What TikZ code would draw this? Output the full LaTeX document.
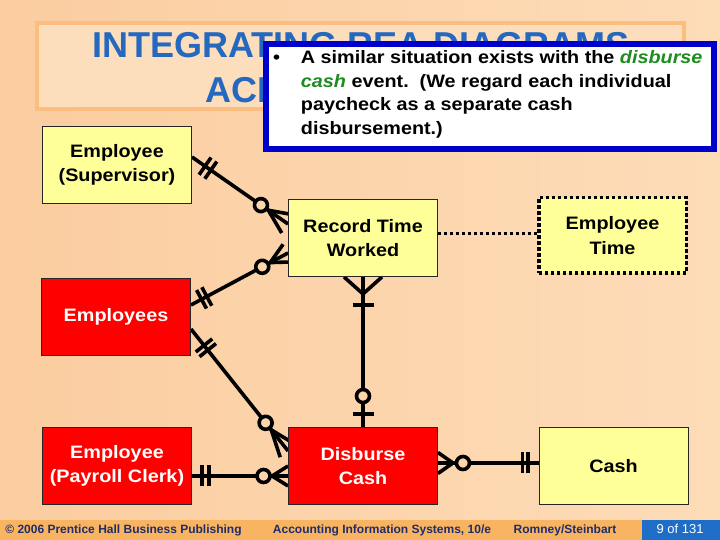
\documentclass[tikz,border=0pt]{standalone}
\usepackage{fontspec}
\setmainfont{Liberation Sans}
\newfontfamily\widefont[FakeStretch=1.1]{Liberation Sans}
\usetikzlibrary{decorations.markings}

\definecolor{bgleft}{RGB}{251,205,160}
\definecolor{bgright}{RGB}{253,220,184}
\definecolor{bgpeach}{RGB}{252,213,172}
\definecolor{titlefill}{RGB}{253,222,188}
\definecolor{titleedge}{RGB}{251,190,128}
\definecolor{titleblue}{RGB}{36,104,192}
\definecolor{noteblue}{RGB}{0,0,204}
\definecolor{notegreen}{RGB}{30,140,30}
\definecolor{boxyellow}{RGB}{255,255,153}
\definecolor{boxred}{RGB}{255,0,0}
\definecolor{footorange}{RGB}{249,180,98}
\definecolor{footblue}{RGB}{30,110,200}
\definecolor{footnavy}{RGB}{30,45,110}

\pgfdeclarelayer{background}
\pgfsetlayers{background,main}

\begin{document}
\begin{tikzpicture}[x=1pt,y=1pt]

    \tikzset{
      rel/.style={line width=3.6pt, line join=round},
      onebar/.style={postaction={decorate,decoration={markings,
        mark=at position #1 with {\draw[rel] (0,-10.5pt) -- (0,10.5pt);}}}},
      ring/.style={postaction={decorate,decoration={markings,
        mark=at position #1 with {\draw[rel,fill=bgpeach] (0,0) circle (6.5pt);}}}},
      crowend/.style 2 args={postaction={decorate,decoration={markings,
        mark=at position 1 with {\draw[rel] (0,#2) -- (-#1,0) -- (0,-#2);}}}},
      crowstart/.style 2 args={postaction={decorate,decoration={markings,
        mark=at position 0 with {\draw[rel] (0,#2) -- (#1,0) -- (0,-#2);}}}},
      entity/.style={draw=black!85, line width=0.9pt, minimum width=149pt,
        minimum height=77pt, align=center,
        font=\widefont\bfseries\fontsize{18}{24.5}\selectfont},
      yellowbox/.style={entity, fill=boxyellow},
      redbox/.style={entity, fill=boxred, text=white},
      linkbox/.style={entity, fill=boxyellow, draw=black, line width=3.5pt,
        dash pattern=on 3.5pt off 2.5pt, minimum width=147.5pt, minimum height=75.5pt},
      dotlink/.style={line width=3.5pt, dash pattern=on 3.5pt off 2.5pt},
      titlebox/.style={draw=titleedge, line width=3.5pt, fill=titlefill,
        minimum width=647pt, minimum height=86pt},
      titletext/.style={text=titleblue, inner sep=0pt,
        font=\bfseries\fontsize{36}{40}\selectfont},
      notebox/.style={draw=noteblue, line width=6pt, fill=white,
        minimum width=448pt, minimum height=105pt},
      notetext/.style={inner sep=0pt, font=\widefont\bfseries\fontsize{18}{22}\selectfont},
      foottext/.style={inner sep=0pt, text=footnavy, font=\bfseries\fontsize{12}{14}\selectfont},
    }

    \useasboundingbox (0,0) rectangle (720,540);
    \begin{pgfonlayer}{background}
      \shade[left color=bgleft, right color=bgright] (0,0) rectangle (720,540);
    \end{pgfonlayer}

    \node[titlebox] (frame) at (360.5,474) {};
    \node[titletext, anchor=base] (title1) at (361,482.3) {INTEGRATING REA DIAGRAMS};
    \node[titletext, anchor=base] (title2) at (361,437.7) {ACROSS CYCLES};

    \node[notebox] (note) at (490,443.5) {};
    \node[notetext, anchor=base west] (dot) at (273,476) {•};
    \node[notetext, anchor=base west] (line1) at (300.7,476)
      {A similar situation exists with the \textit{\textcolor{notegreen}{disburse}}};
    \node[notetext, anchor=base west] (line2) at (300.7,452.5)
      {\textit{\textcolor{notegreen}{cash}} event.~~(We regard each individual};
    \node[notetext, anchor=base west] (line3) at (300.7,429) {paycheck as a separate cash};
    \node[notetext, anchor=base west] (line4) at (300.7,405.5) {disbursement.)};

    \node[yellowbox] (sup) at (117,375) {Employee\\(Supervisor)};
    \node[yellowbox] (rtw) at (363,302) {Record Time\\Worked};
    \node[linkbox] (empt) at (612.5,304.5) {Employee\\Time};
    \node[redbox] (emps) at (116,223.5) {Employees};
    \node[redbox] (clerk) at (117,74) {Employee\\(Payroll Clerk)};
    \node[redbox] (dc) at (363,74) {Disburse\\Cash};
    \node[yellowbox] (cash) at (613.5,74) {Cash};

    \begin{pgfonlayer}{background}
      \draw[rel, onebar=16pt, onebar=23pt, ring=-33pt, crowend={24pt}{11pt}]
        ([yshift=8pt]sup.east) -- ([yshift=14pt]rtw.west);
      \draw[rel, onebar=12pt, onebar=18pt, ring=-29pt, crowend={20pt}{10pt}]
        ([yshift=11.5pt]emps.east) -- ([yshift=-15pt]rtw.west);
      \draw[rel, onebar=21pt, onebar=27pt, ring=-36pt, crowend={27pt}{10pt}]
        ([yshift=-12.5pt]emps.east) -- ([yshift=15pt]dc.west);
      \draw[rel, onebar=10pt, onebar=17pt, ring=-24.5pt, crowend={16pt}{10pt}]
        ([yshift=-10pt]clerk.east) -- ([yshift=-10pt]dc.west);
      \draw[rel, crowstart={17pt}{19pt}, onebar=28pt, ring=-31pt, onebar=-13pt]
        (rtw.south) -- (dc.north);
      \draw[rel, crowstart={15pt}{10.5pt}, ring=25pt, onebar=-16pt, onebar=-10.5pt]
        ([yshift=3pt]dc.east) -- ([yshift=3pt]cash.west);
      \draw[dotlink] ([yshift=4.5pt]rtw.east) -- ([yshift=2pt]empt.west);
    \end{pgfonlayer}

    \fill[footorange] (0,0) rectangle (642,19.5);
    \fill[footblue] (642,0) rectangle (720,19.5);
    \node[foottext, anchor=base] (pub) at (123.5,6) {© 2006 Prentice Hall Business Publishing};
    \node[foottext, anchor=base] (book) at (382,6) {Accounting Information Systems, 10/e};
    \node[foottext, anchor=base] (auth) at (565,6) {Romney/Steinbart};
    \node[foottext, anchor=base, text=white, font=\fontsize{13}{15}\selectfont] (page) at (680,6) {9 of 131};

\end{tikzpicture}
\end{document}
